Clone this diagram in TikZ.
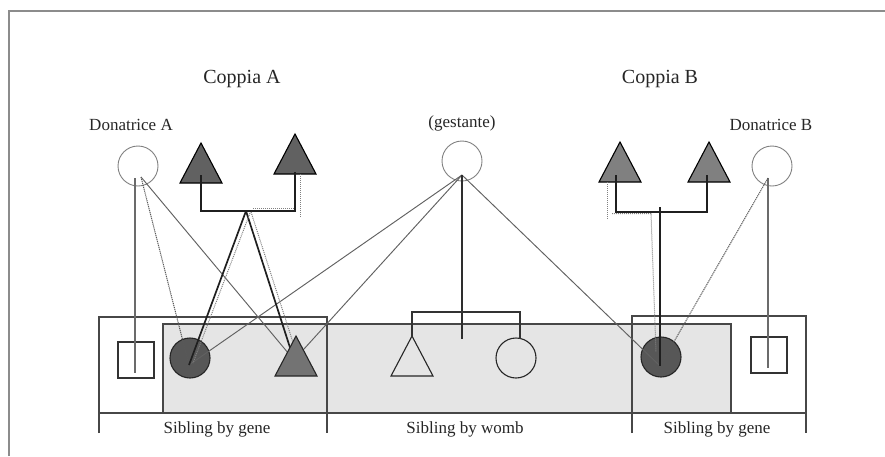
\documentclass[tikz,border=0pt]{standalone}
\usepackage{fontspec}
\setmainfont{Liberation Serif}
\usetikzlibrary{calc}

\begin{document}
\begin{tikzpicture}[x=1pt,y=-1pt,
  frame/.style={draw=black!45, line width=2pt},
  boxline/.style={draw=black!72, line width=1.2pt},
  band/.style={fill=black!10, draw=black!72, line width=1.2pt},
  gene/.style={draw=black!88, line width=1.7pt},
  genedot/.style={draw=black!50, line width=1pt, dash pattern=on 1pt off 1pt},
  womb/.style={draw=black!62, line width=0.95pt},
  wombkin/.style={draw=black!80, line width=1.6pt},
  wombdrop/.style={draw=black!82, line width=2pt},
  donorline/.style={draw=black!58, line width=1.4pt},
  donorthin/.style={draw=black!62, line width=0.95pt},
  donordot/.style={draw=black!65, line width=1pt, dash pattern=on 1.2pt off 0.8pt},
  donorcirc/.style={circle, draw=black!50, line width=0.9pt, minimum size=40pt, inner sep=0pt},
  kidcirc/.style={circle, draw=black!85, line width=1.1pt, minimum size=40pt, inner sep=0pt},
  kidsq/.style={rectangle, draw=black!80, line width=1.1pt, minimum size=36pt, inner sep=0pt},
  tri/.pic={\path[pic actions] (-21,20) -- (0,-20) -- (21,20) -- cycle;},
  bigtxt/.style={inner sep=0pt, anchor=base, text=black!85, font=\fontsize{20}{24}\selectfont},
  txt/.style={inner sep=0pt, anchor=base, text=black!85, font=\fontsize{17}{20}\selectfont}
]
\useasboundingbox (0,0) rectangle (885,456);

% outer frame (open to the right and bottom)
\draw[frame] (8.5,456) -- (8.5,10.5) -- (885,10.5);

% titles
\node[bigtxt] (ttlA) at (242,83) {Coppia A};
\node[bigtxt] (ttlB) at (660,83) {Coppia B};
\node[txt] (lblDA) at (131,130) {Donatrice A};
\node[txt] (lblG)  at (462,127) {(gestante)};
\node[txt] (lblDB) at (771,130) {Donatrice B};

% shaded womb band and the two sibling-by-gene boxes
\draw[band] (163,324) rectangle (731,413);
\draw[boxline] (99,433) -- (99,317) -- (327,317) -- (327,433);
\draw[boxline] (632,433) -- (632,316) -- (806,316) -- (806,433);
\draw[boxline] (99,413) -- (806,413);

\node[txt] (lblS1) at (217,433) {Sibling by gene};
\node[txt] (lblS2) at (465,433) {Sibling by womb};
\node[txt] (lblS3) at (717,433) {Sibling by gene};

% parents and donors
\coordinate (A1) at (201,163);
\coordinate (A2) at (295,154);
\coordinate (B1) at (620,162);
\coordinate (B2) at (709,162);
\pic[draw=black, line width=1.1pt, fill=black!62] at (A1) {tri};
\pic[draw=black, line width=1.1pt, fill=black!62] at (A2) {tri};
\pic[draw=black, line width=1.1pt, fill=black!50] at (B1) {tri};
\pic[draw=black, line width=1.1pt, fill=black!50] at (B2) {tri};
\node[donorcirc] (donA) at (138,166) {};
\node[donorcirc] (gest) at (462,161) {};
\node[donorcirc] (donB) at (772,166) {};

% children
\node[kidcirc, fill=black!66] (cA) at (190,358) {};
\node[kidcirc, fill=black!66] (cB) at (661,357) {};
\node[kidsq] (sqA) at (136,360) {};
\node[kidsq] (sqB) at (769,355) {};
\node[kidcirc] (cW) at (516,358) {};
\coordinate (tW) at (412,356);
\pic[draw=black!85, line width=1.1pt] at (tW) {tri};
\coordinate (tA) at (296,356);

% attachment points
\coordinate (donA-o) at (141,177);
\coordinate (donA-v) at (135,178);
\coordinate (gest-o) at (462,175);
\coordinate (donB-o) at (768,178);
\coordinate (cA-in) at (189,365);
\coordinate (cB-in) at (660,366);
\coordinate (tA-in) at (294,360);
\coordinate (sqA-in) at (135,373);
\coordinate (sqB-in) at (768,368);
\coordinate (A1b) at (201,175);
\coordinate (A2b) at (295,172);
\coordinate (jA) at (246,211);
\coordinate (B1b) at (616,175);
\coordinate (B2b) at (707,175);
\coordinate (jB) at (660,212);
\coordinate (tW-top) at (412,337);
\coordinate (cW-top) at (520,339);
\coordinate (jW) at (462,312);
\coordinate (jW-end) at (462,339);

% donor A
\draw[donorline] (donA-v) -- (sqA-in);
\draw[donordot] (donA-o) -- (cA-in);
\draw[donorthin] (donA-o) -- (tA-in);

% gestational mother
\draw[womb] (gest-o) -- (cA-in);
\draw[womb] (gest-o) -- (tA-in);
\draw[womb] (gest-o) -- (cB-in);
\draw[wombdrop] (gest-o) -- (jW-end);
\draw[wombkin] (tW-top) |- (jW) -| (cW-top);

% donor B
\draw[donorline] (donB-o) -- (sqB-in);
\draw[donordot] (donB-o) -- (cB-in);

% couple A
\draw[gene] (A1b) |- (jA) -| (A2b);
\draw[genedot] ($(jA)+(7,-2.5)$) -- ($(A2b |- jA)+(0,-2.5)$);
\draw[genedot] ($(A2b)+(5,2)$) -- ($(A2b |- jA)+(5,6)$);
\draw[gene] (jA) -- (cA-in);
\draw[gene] (jA) -- (tA-in);
\draw[genedot] ($(jA)+(4,2)$) -- ($(cA-in)+(4,-2)$);
\draw[genedot] ($(jA)+(5,1)$) -- ($(tA-in)+(4,-2)$);

% couple B
\draw[gene] (B1b) |- (jB) -| (B2b);
\draw[gene] ($(jB)+(0,-5)$) -- (cB-in);
\draw[genedot] ($(B1b)+(-9,3)$) -- ($(B1b |- jB)+(-9,8)$);
\draw[genedot] ($(B1b |- jB)+(-4,1.5)$) -- ($(jB)+(-9,1.5)$) -- ($(cB-in)+(-4,-14)$);

% filled child triangle over its incoming lines
\pic[draw=black!85, line width=1.1pt, fill=black!55] at (tA) {tri};
\end{tikzpicture}
\end{document}
